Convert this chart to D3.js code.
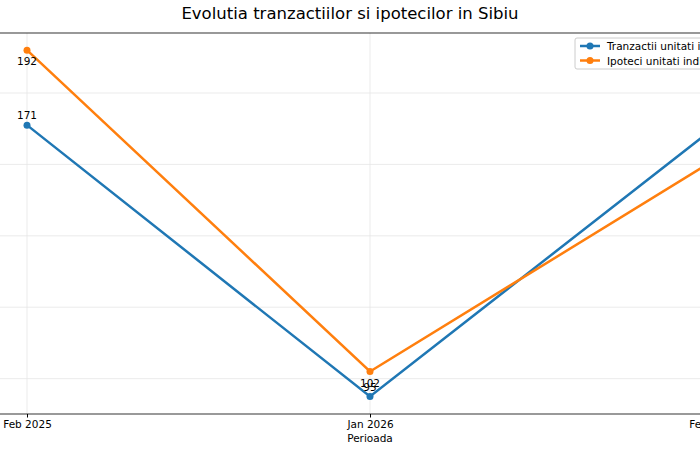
<!DOCTYPE html><html><head><script src="https://d3js.org/d3.v7.min.js"></script>
<style>body{margin:0;background:#fff}svg{font-family:"DejaVu Sans",sans-serif}</style></head><body>
<svg id="c" width="700" height="450"></svg>
<script>
const periods=["Feb 2025","Jan 2026","Feb 2026"];
const tranzactii=[171,95,170];
const ipoteci=[192,102,161];
const gridTicks=[100,120,140,160,180];
const seriesNames=["Tranzactii unitati individuale","Ipoteci unitati individuale"];
const colors=["#1f77b4","#ff7f0e"];
const svg=d3.select("#c");
const x=d3.scalePoint().domain(periods).range([27,713]);
const y=d3.scaleLinear().domain([90.1,196.8]).range([414,33]);
const L=-7,R=747,T=33,B=414;
svg.append("text").attr("x",350).attr("y",19).attr("text-anchor","middle").attr("font-size",16.5).text("Evolutia tranzactiilor si ipotecilor in Sibiu");
const g=svg.append("g");
gridTicks.forEach(t=>g.append("line").attr("x1",L).attr("x2",R).attr("y1",y(t)).attr("y2",y(t)).attr("stroke","#e6e6e6").attr("stroke-width",0.8));
periods.forEach(p=>g.append("line").attr("x1",x(p)).attr("x2",x(p)).attr("y1",T).attr("y2",B).attr("stroke","#e6e6e6").attr("stroke-width",0.8));
g.append("rect").attr("x",L).attr("y",T).attr("width",R-L).attr("height",B-T).attr("fill","none").attr("stroke","#000").attr("stroke-width",0.8);
const ax=svg.append("g").attr("transform",`translate(0,${B})`).call(d3.axisBottom(x).tickSizeOuter(0).tickSize(3.5).tickPadding(3));
ax.select(".domain").remove();
ax.selectAll("text").attr("font-size",10.5).attr("font-family","DejaVu Sans").attr("fill","#000");
svg.append("text").attr("x",370).attr("y",442).attr("text-anchor","middle").attr("font-size",10.5).text("Perioada");
[[tranzactii,-6],[ipoteci,15]].forEach(([data,dy],i)=>{
  const line=d3.line().x((d,j)=>x(periods[j])).y(d=>y(d));
  svg.append("path").datum(data).attr("d",line).attr("fill","none").attr("stroke",colors[i]).attr("stroke-width",2.5);
  data.forEach((d,j)=>{
    svg.append("circle").attr("cx",x(periods[j])).attr("cy",y(d)).attr("r",3.5).attr("fill",colors[i]);
    svg.append("text").attr("x",x(periods[j])).attr("y",y(d)+dy).attr("text-anchor","middle").attr("font-size",10.5).text(d);
  });
});
const lg=svg.append("g").attr("transform","translate(575,38)");
lg.append("rect").attr("width",220).attr("height",31).attr("rx",2).attr("fill","#fff").attr("fill-opacity",0.8).attr("stroke","#ccc");
seriesNames.forEach((n,i)=>{
  const yy=8+i*14.5;
  lg.append("line").attr("x1",5).attr("x2",25).attr("y1",yy).attr("y2",yy).attr("stroke",colors[i]).attr("stroke-width",2.5);
  lg.append("circle").attr("cx",15).attr("cy",yy).attr("r",3.5).attr("fill",colors[i]);
  lg.append("text").attr("x",32).attr("y",yy+4).attr("font-size",10.5).text(n);
});
</script></body></html>
